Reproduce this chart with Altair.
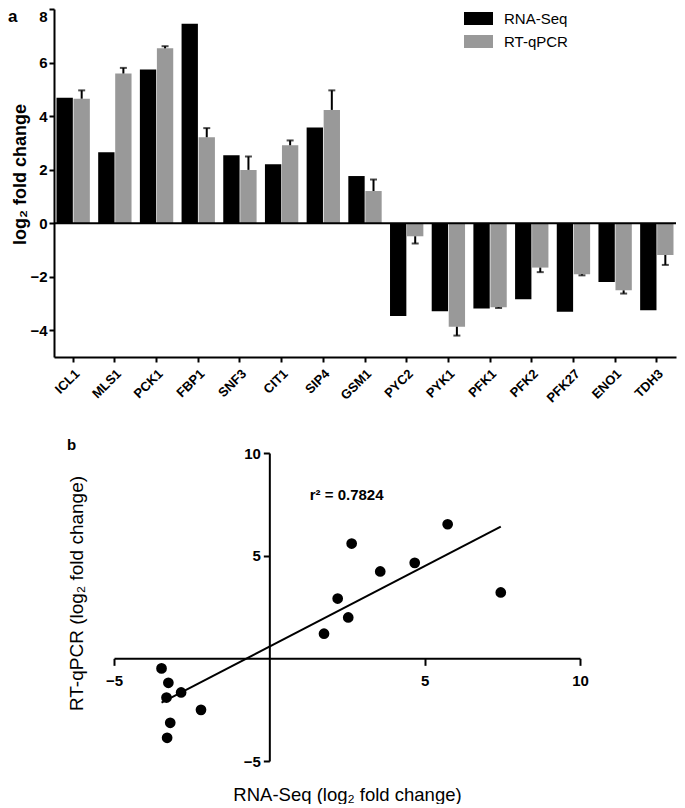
import altair as alt
import numpy as np
import pandas as pd

genes = ["ICL1", "MLS1", "PCK1", "FBP1", "SNF3", "CIT1", "SIP4", "GSM1",
         "PYC2", "PYK1", "PFK1", "PFK2", "PFK27", "ENO1", "TDH3"]
rna_seq = [4.68, 2.65, 5.74, 7.45, 2.54, 2.20, 3.57, 1.76,
           -3.47, -3.29, -3.19, -2.84, -3.31, -2.20, -3.25]
rt_qpcr = [4.65, 5.59, 6.53, 3.21, 1.99, 2.91, 4.23, 1.20,
           -0.49, -3.87, -3.14, -1.66, -1.91, -2.51, -1.19]
qpcr_err = [0.31, 0.21, 0.08, 0.34, 0.50, 0.18, 0.73, 0.43,
            0.27, 0.33, 0.03, 0.17, 0.04, 0.12, 0.37]
series = ["RNA-Seq", "RT-qPCR"]
series_colors = ["#000000", "#999999"]
bar_ticks = [-4, -2, 0, 2, 4, 6, 8]
scatter_ticks = [-5, 5, 10]
r2_label = "r\u00b2 = 0.7824"

FONT = "Liberation Sans"

# ---------------- panel a ----------------
bars_df = pd.DataFrame({
    "gene": genes * 2,
    "series": [series[0]] * len(genes) + [series[1]] * len(genes),
    "value": rna_seq + rt_qpcr,
})
err_df = pd.DataFrame({"gene": genes, "series": series[1], "value": rt_qpcr, "err": qpcr_err})
err_df["end"] = err_df["value"] + np.sign(err_df["value"]) * err_df["err"]

W_A, H_A = 622, 348
x_a = alt.X("gene:N", sort=genes,
            scale=alt.Scale(paddingInner=0.2, paddingOuter=0.06),
            axis=alt.Axis(title=None, labelAngle=-45, labelAlign="right", labelBaseline="top",
                          labelFontSize=13, labelFontWeight="bold", labelPadding=5,
                          tickSize=5, tickWidth=2, domainWidth=2))
y_scale_a = alt.Scale(domain=[-5, 8], nice=False, zero=False)
y_axis_a = alt.Axis(values=bar_ticks, title="log\u2082 fold change", titleFontSize=18,
                    titleFontWeight="bold", titleX=-29, titleY=165, titleAngle=-90,
                    titleBaseline="alphabetic", titleAlign="center",
                    labelFontSize=15, labelFontWeight="bold", labelFlush=True,
                    labelPadding=2, tickSize=5, tickWidth=2, domainWidth=2, grid=False)
xoff = alt.XOffset("series:N", sort=series, scale=alt.Scale(paddingInner=0.04))
color = alt.Color("series:N", sort=series,
                  scale=alt.Scale(domain=series, range=series_colors),
                  legend=alt.Legend(title=None, orient="none", legendX=417, legendY=2,
                                    symbolType="M-2.23,-1H2.23V1H-2.23Z", symbolSize=169,
                                    symbolStrokeWidth=0, labelFontSize=15, labelOffset=18,
                                    rowPadding=7, padding=0, labelFont=FONT))

bars = alt.Chart(bars_df).mark_bar().encode(
    x=x_a, xOffset=xoff, y=alt.Y("value:Q", scale=y_scale_a, axis=y_axis_a), color=color)

err_rule = alt.Chart(err_df).mark_rule(color="black", strokeWidth=2).encode(
    x=alt.X("gene:N", sort=genes), xOffset=alt.XOffset("series:N", sort=series),
    y=alt.Y("value:Q"), y2="end:Q")
err_cap = alt.Chart(err_df).mark_tick(color="black", thickness=2, size=7).encode(
    x=alt.X("gene:N", sort=genes), xOffset=alt.XOffset("series:N", sort=series),
    y=alt.Y("end:Q"))
zero_line = alt.Chart(pd.DataFrame({"z": [0]})).mark_rule(color="black", strokeWidth=2).encode(
    y=alt.Y("z:Q"))
label_a = alt.Chart(pd.DataFrame({"t": ["a"]})).mark_text(
    fontSize=17, fontWeight="bold", align="left", baseline="top", color="black").encode(
    x=alt.value(-46), y=alt.value(0), text="t:N")

panel_a = alt.layer(bars, err_rule, err_cap, zero_line, label_a).properties(width=W_A, height=H_A)

# ---------------- panel b ----------------
sc_df = pd.DataFrame({"gene": genes, "rna": rna_seq, "qpcr": rt_qpcr})
W_B, H_B = 466, 308
x_b = alt.X("rna:Q", scale=alt.Scale(domain=[-5, 10], nice=False, zero=False),
            axis=alt.Axis(values=scatter_ticks, offset=-H_B / 3,
                          title="RNA-Seq (log\u2082 fold change)", titleX=W_B / 2, titleY=142,
                          titleBaseline="alphabetic", titleAlign="center", titleFontSize=18.5,
                          titleFontWeight="normal", labelFontSize=15, labelFontWeight="bold",
                          labelFlush=False, tickSize=7, tickWidth=2, domainWidth=2,
                          labelPadding=8, grid=False))
y_b = alt.Y("qpcr:Q", scale=alt.Scale(domain=[-5, 10], nice=False, zero=False),
            axis=alt.Axis(values=scatter_ticks, offset=-W_B / 3,
                          title="RT-qPCR (log\u2082 fold change)", titleX=-187, titleY=140,
                          titleAngle=-90, titleBaseline="alphabetic", titleAlign="center",
                          titleFontSize=19, titleFontWeight="normal", labelFontSize=15,
                          labelFontWeight="bold", labelFlush=False, tickSize=6, tickWidth=2,
                          domainWidth=2, labelPadding=3, grid=False))

points = alt.Chart(sc_df).mark_circle(size=115, color="black", opacity=1).encode(x=x_b, y=y_b)
fit = alt.Chart(sc_df).transform_regression("rna", "qpcr").mark_line(
    color="black", strokeWidth=2).encode(x=alt.X("rna:Q"), y=alt.Y("qpcr:Q"))
r2_text = alt.Chart(pd.DataFrame({"t": [r2_label]})).mark_text(
    align="left", baseline="alphabetic", fontSize=15, fontWeight="bold", color="black").encode(
    x=alt.datum(1.3), y=alt.datum(7.7), text="t:N")
label_b = alt.Chart(pd.DataFrame({"t": ["b"]})).mark_text(
    fontSize=15, fontWeight="bold", align="left", baseline="alphabetic", color="black").encode(
    x=alt.value(-47), y=alt.value(-3), text="t:N")

panel_b = alt.layer(points, fit, r2_text, label_b).properties(width=W_B, height=H_B)

spacer = alt.Chart(pd.DataFrame({"s": [0]})).mark_point(opacity=0).properties(width=13, height=10)
row_b = alt.hconcat(spacer, panel_b, spacing=0)

chart = alt.vconcat(panel_a, row_b, spacing=33).properties(
    padding={"left": 0, "top": 0, "right": 0, "bottom": 0}
).configure(font=FONT).configure_view(stroke=None).configure_axis(
    labelColor="black", titleColor="black", domainColor="black", tickColor="black"
)

chart.save("out.html", embed_options={"renderer": "svg", "actions": False})
